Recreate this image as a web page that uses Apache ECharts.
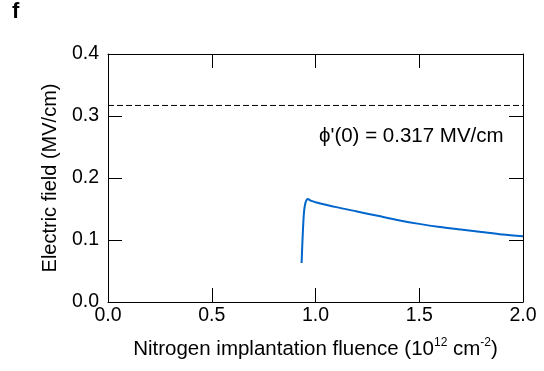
<!DOCTYPE html>
<html>
<head>
<meta charset="utf-8">
<script src="https://cdn.jsdelivr.net/npm/echarts@6/dist/echarts.min.js"></script>
<style>
  html, body { margin: 0; padding: 0; background: #fff; }
  #chart { width: 544px; height: 371px; }
</style>
</head>
<body>
<div id="chart"></div>
<script>
// fluence (10^12 cm^-2) and field (MV/cm)
var fluence = [0.933, 0.938, 0.944, 0.949, 0.955, 0.962, 0.98, 1.0, 1.1, 1.2, 1.3, 1.4, 1.5, 1.6, 1.7, 1.8, 1.9, 2.0];
var field = [0.063, 0.105, 0.143, 0.156, 0.163, 0.166, 0.163, 0.161, 0.153, 0.146, 0.139, 0.132, 0.126, 0.121, 0.117, 0.113, 0.109, 0.106];
var phi0 = 0.317;
var xTicks = [0.0, 0.5, 1.0, 1.5, 2.0];
var yTicks = [0.0, 0.1, 0.2, 0.3, 0.4];

var font = 'Liberation Sans, Arial, sans-serif';

var curve = [];
for (var i = 0; i < fluence.length; i++) {
    curve.push([fluence[i], field[i]]);
}

var chart = echarts.init(document.getElementById('chart'));

// ticks inside, mirrored on the top/right axes
var tickStyle = {show: true, inside: true, length: 14, lineStyle: {color: '#000', width: 1}};
var lineStyle = {show: true, onZero: false, lineStyle: {color: '#000', width: 1}};

chart.setOption({
    animation: false,
    backgroundColor: '#fff',
    grid: {left: 108, right: 21, top: 54, bottom: 69},
    graphic: [
        {type: 'text', left: 12, top: 1, style: {text: 'f', font: 'bold 22px ' + font, fill: '#000'}},
        {type: 'text', left: 319, top: 126, style: {text: "\u03d5'(0) = " + phi0 + ' MV/cm', font: '20.5px ' + font, fill: '#000'}}
    ],
    xAxis: [
        {
            type: 'value', min: xTicks[0], max: xTicks[xTicks.length - 1], interval: 0.5,
            axisLine: lineStyle, axisTick: tickStyle, splitLine: {show: false},
            axisLabel: {color: '#000', fontSize: 19.5, fontFamily: font, margin: 4,
                formatter: function (v) { return v.toFixed(1); }},
            name: '{n|Nitrogen implantation fluence (10}{s|12}{n| cm}{s|-2}{n|)}',
            nameLocation: 'middle', nameGap: 35,
            nameTextStyle: {
                rich: {
                    n: {fontSize: 20.5, fontFamily: font, color: '#000'},
                    s: {fontSize: 12, fontFamily: font, color: '#000', padding: [0, 0, 12, 0]}
                }
            }
        },
        {
            type: 'value', position: 'top', min: 0, max: 2, interval: 0.5,
            axisLine: lineStyle, axisTick: tickStyle, axisLabel: {show: false}, splitLine: {show: false}
        }
    ],
    yAxis: [
        {
            type: 'value', min: yTicks[0], max: yTicks[yTicks.length - 1], interval: 0.1,
            axisLine: lineStyle, axisTick: tickStyle, splitLine: {show: false},
            axisLabel: {color: '#000', fontSize: 19.5, fontFamily: font, margin: 9,
                formatter: function (v) { return v.toFixed(1); }},
            name: 'Electric field (MV/cm)', nameLocation: 'middle', nameGap: 48,
            nameTextStyle: {color: '#000', fontSize: 20, fontFamily: font}
        },
        {
            type: 'value', position: 'right', min: 0, max: 0.4, interval: 0.1,
            axisLine: lineStyle, axisTick: tickStyle, axisLabel: {show: false}, splitLine: {show: false}
        }
    ],
    series: [
        {
            name: 'phi0',
            type: 'line',
            data: [[xTicks[0], phi0], [xTicks[xTicks.length - 1], phi0]],
            symbol: 'none',
            lineStyle: {color: '#000', width: 1, type: [6, 3]}
        },
        {
            name: 'field',
            type: 'line',
            data: curve,
            symbol: 'none',
            smooth: 0.3,
            lineStyle: {color: '#0066cc', width: 2}
        }
    ]
});
</script>
</body>
</html>
